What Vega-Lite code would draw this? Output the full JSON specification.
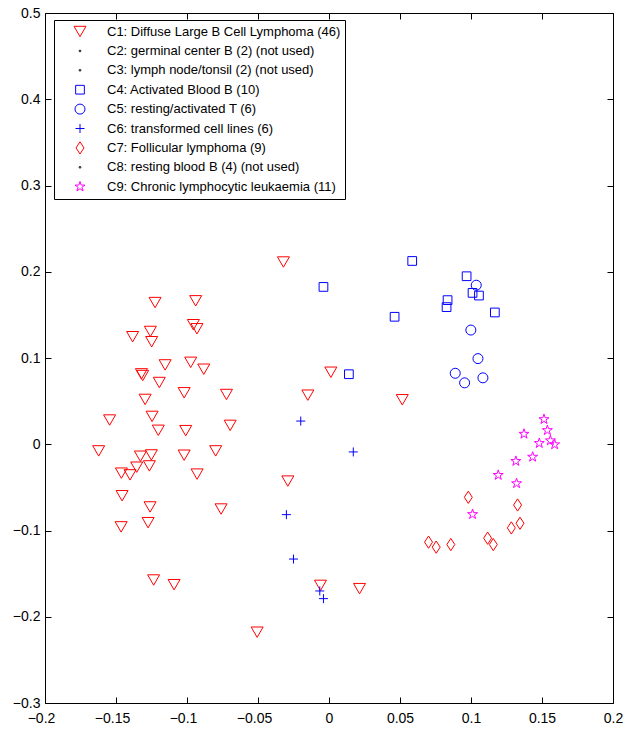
{
  "$schema": "https://vega.github.io/schema/vega-lite/v6.json",
  "width": 568,
  "height": 690,
  "autosize": "none",
  "padding": {"left": 45, "top": 13, "right": 13, "bottom": 27},
  "background": "white",
  "config": {
    "view": {"stroke": null},
    "font": "Liberation Sans",
    "axis": {
      "grid": false,
      "domainColor": "black",
      "domainWidth": 1,
      "tickColor": "black",
      "tickWidth": 1,
      "tickSize": -6,
      "labelFlush": false,
      "labelFont": "Liberation Sans",
      "labelFontSize": 14,
      "labelColor": "black",
      "title": null
    }
  },
  "datasets": {
    "pts": [
      {"g":"C1","x":-0.1225,"y":0.1643},{"g":"C1","x":-0.0939,"y":0.1663},{"g":"C1","x":-0.0955,"y":0.1386},{"g":"C1","x":-0.0930,"y":0.1339},
      {"g":"C1","x":-0.1383,"y":0.1247},{"g":"C1","x":-0.1258,"y":0.1308},{"g":"C1","x":-0.1249,"y":0.1189},{"g":"C1","x":-0.1154,"y":0.0920},
      {"g":"C1","x":-0.0974,"y":0.0950},{"g":"C1","x":-0.0882,"y":0.0870},{"g":"C1","x":-0.1321,"y":0.0816},{"g":"C1","x":-0.1312,"y":0.0797},
      {"g":"C1","x":-0.1195,"y":0.0716},{"g":"C1","x":-0.1020,"y":0.0597},{"g":"C1","x":-0.0722,"y":0.0577},{"g":"C1","x":-0.1295,"y":0.0520},
      {"g":"C1","x":-0.1246,"y":0.0323},{"g":"C1","x":-0.1545,"y":0.0281},{"g":"C1","x":-0.1202,"y":0.0162},{"g":"C1","x":-0.1009,"y":0.0158},
      {"g":"C1","x":-0.0696,"y":0.0219},{"g":"C1","x":-0.1622,"y":-0.0077},{"g":"C1","x":-0.1328,"y":-0.0139},{"g":"C1","x":-0.1251,"y":-0.0124},
      {"g":"C1","x":-0.1020,"y":-0.0127},{"g":"C1","x":-0.0798,"y":-0.0077},{"g":"C1","x":-0.1354,"y":-0.0266},{"g":"C1","x":-0.1265,"y":-0.0251},
      {"g":"C1","x":-0.1462,"y":-0.0335},{"g":"C1","x":-0.1401,"y":-0.0355},{"g":"C1","x":-0.0929,"y":-0.0346},{"g":"C1","x":-0.0290,"y":-0.0427},
      {"g":"C1","x":-0.1457,"y":-0.0597},{"g":"C1","x":-0.1260,"y":-0.0727},{"g":"C1","x":-0.0760,"y":-0.0751},{"g":"C1","x":-0.1464,"y":-0.0958},
      {"g":"C1","x":-0.1274,"y":-0.0909},{"g":"C1","x":-0.1235,"y":-0.1574},{"g":"C1","x":-0.1091,"y":-0.1628},{"g":"C1","x":-0.0506,"y":-0.2179},
      {"g":"C1","x":-0.0321,"y":0.2113},{"g":"C1","x":0.0013,"y":0.0835},{"g":"C1","x":-0.0149,"y":0.0569},{"g":"C1","x":0.0516,"y":0.0516},
      {"g":"C1","x":-0.0060,"y":-0.1636},{"g":"C1","x":0.0215,"y":-0.1674},
      {"g":"C4","x":0.0586,"y":0.2125},{"g":"C4","x":0.0969,"y":0.1948},{"g":"C4","x":0.1011,"y":0.1755},{"g":"C4","x":0.1056,"y":0.1724},
      {"g":"C4","x":0.0835,"y":0.1671},{"g":"C4","x":0.0828,"y":0.1590},{"g":"C4","x":0.0462,"y":0.1478},{"g":"C4","x":0.1168,"y":0.1528},
      {"g":"C4","x":-0.0039,"y":0.1824},{"g":"C4","x":0.0140,"y":0.0812},
      {"g":"C5","x":0.1037,"y":0.1844},{"g":"C5","x":0.0999,"y":0.1324},{"g":"C5","x":0.1049,"y":0.0993},{"g":"C5","x":0.0889,"y":0.0823},
      {"g":"C5","x":0.0955,"y":0.0712},{"g":"C5","x":0.1084,"y":0.0770},
      {"g":"C6","x":-0.0199,"y":0.0269},{"g":"C6","x":0.0171,"y":-0.0089},{"g":"C6","x":-0.0300,"y":-0.0816},{"g":"C6","x":-0.0250,"y":-0.1331},
      {"g":"C6","x":-0.0065,"y":-0.1701},{"g":"C6","x":-0.0039,"y":-0.1790},
      {"g":"C7","x":0.0981,"y":-0.0615},{"g":"C7","x":0.1328,"y":-0.0704},{"g":"C7","x":0.1345,"y":-0.0916},{"g":"C7","x":0.1284,"y":-0.0970},
      {"g":"C7","x":0.1117,"y":-0.1089},{"g":"C7","x":0.1157,"y":-0.1163},{"g":"C7","x":0.0701,"y":-0.1135},{"g":"C7","x":0.0755,"y":-0.1193},
      {"g":"C7","x":0.0858,"y":-0.1163},
      {"g":"C9","x":0.1514,"y":0.0289},{"g":"C9","x":0.1538,"y":0.0162},{"g":"C9","x":0.1373,"y":0.0119},{"g":"C9","x":0.1481,"y":0.0012},
      {"g":"C9","x":0.1559,"y":0.0043},{"g":"C9","x":0.1589,"y":-0.0003},{"g":"C9","x":0.1434,"y":-0.0147},{"g":"C9","x":0.1316,"y":-0.0196},
      {"g":"C9","x":0.1192,"y":-0.0358},{"g":"C9","x":0.1321,"y":-0.0454},{"g":"C9","x":0.1011,"y":-0.0812}
    ]
  },
  "data": {"name": "pts"},
  "layer": [
    {
      "mark": {"type": "point", "filled": false, "strokeWidth": 1, "opacity": 1},
      "encoding": {
        "x": {"field": "x", "type": "quantitative",
              "scale": {"domain": [-0.2, 0.2], "nice": false, "zero": false},
              "axis": {"orient": "bottom", "values": [-0.2,-0.15,-0.1,-0.05,0,0.05,0.1,0.15,0.2], "format": "~g", "labelPadding": 14,
                       "labelOffset": {"condition": {"test": "datum.value < 0", "value": -4}, "value": 0}}},
        "y": {"field": "y", "type": "quantitative",
              "scale": {"domain": [-0.3, 0.5], "nice": false, "zero": false},
              "axis": {"orient": "left", "values": [-0.3,-0.2,-0.1,0,0.1,0.2,0.3,0.4,0.5], "format": "~g", "labelPadding": 11}},
        "color": {"field": "g", "type": "nominal",
                  "scale": {"domain": ["C1","C2","C3","C4","C5","C6","C7","C8","C9"],
                            "range": ["#ff0000","#000000","#000000","#0000ff","#0000ff","#0000ff","#ff0000","#000000","#ff00ff"]},
                  "legend": {
                    "title": null, "orient": "none", "legendX": 9, "legendY": 7,
                    "strokeColor": "black", "fillColor": "white", "padding": 4,
                    "labelFont": "Liberation Sans", "labelFontSize": 13, "labelColor": "black", "labelLimit": 500,
                    "symbolOffset": 15, "labelOffset": 20, "rowPadding": 4.4, "clipHeight": 15, "symbolStrokeWidth": 1,
                    "labelExpr": "datum.label == 'C1' ? 'C1: Diffuse Large B Cell Lymphoma (46)' : datum.label == 'C2' ? 'C2: germinal center B (2) (not used)' : datum.label == 'C3' ? 'C3: lymph node/tonsil (2) (not used)' : datum.label == 'C4' ? 'C4: Activated Blood B (10)' : datum.label == 'C5' ? 'C5: resting/activated T (6)' : datum.label == 'C6' ? 'C6: transformed cell lines (6)' : datum.label == 'C7' ? 'C7: Follicular lymphoma (9)' : datum.label == 'C8' ? 'C8: resting blood B (4) (not used)' : 'C9: Chronic lymphocytic leukaemia (11)'"
                  }},
        "shape": {"field": "g", "type": "nominal",
                  "scale": {"domain": ["C1","C2","C3","C4","C5","C6","C7","C8","C9"],
                            "range": ["triangle-down","circle","circle","square","circle","M-1,0L1,0M0,-1L0,1","M0,-1L0.65,0L0,1L-0.65,0Z","circle","M0,-1L0.225,-0.309L0.951,-0.309L0.363,0.118L0.588,0.809L0,0.382L-0.588,0.809L-0.363,0.118L-0.951,-0.309L-0.225,-0.309Z"]}},
        "size": {"field": "g", "type": "nominal",
                 "scale": {"type": "ordinal", "domain": ["C1","C2","C3","C4","C5","C6","C7","C8","C9"],
                           "range": [144, 3, 3, 76, 100, 81, 150, 3, 110]}}
      }
    },
    {
      "mark": {"type": "point", "opacity": 0},
      "encoding": {
        "x": {"field": "x", "type": "quantitative",
              "scale": {"domain": [-0.2, 0.2], "nice": false, "zero": false},
              "axis": {"orient": "top", "values": [-0.2,-0.15,-0.1,-0.05,0,0.05,0.1,0.15,0.2], "labels": false}},
        "y": {"field": "y", "type": "quantitative",
              "scale": {"domain": [-0.3, 0.5], "nice": false, "zero": false},
              "axis": {"orient": "right", "values": [-0.3,-0.2,-0.1,0,0.1,0.2,0.3,0.4,0.5], "labels": false}}
      }
    }
  ],
  "resolve": {"axis": {"x": "independent", "y": "independent"}}
}
